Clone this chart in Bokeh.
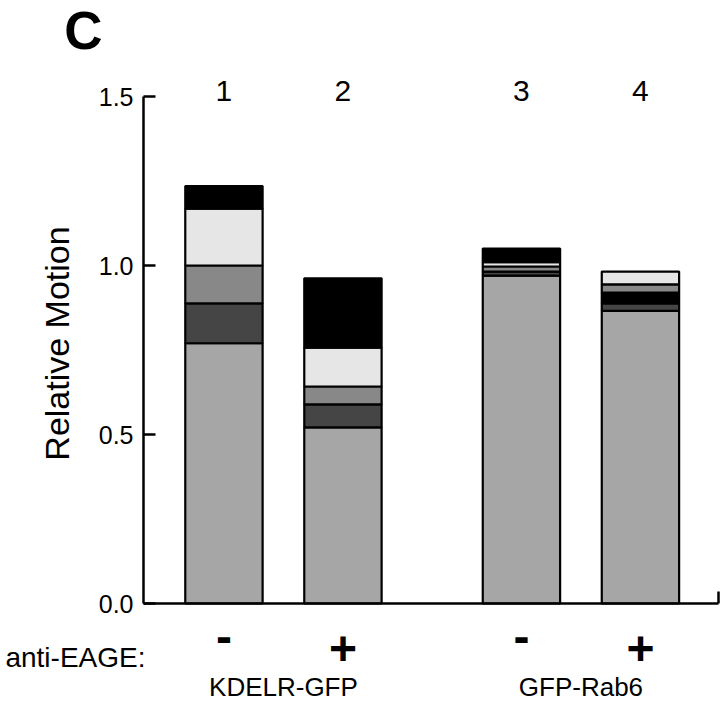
import math
from bokeh.plotting import figure
from bokeh.models import ColumnDataSource, Label, FixedTicker, PrintfTickFormatter, LinearAxis
from bokeh.embed import file_html
from bokeh.resources import INLINE

# ---- data ----
positions = [1.0, 2.0, 3.5, 4.5]
lane_numbers = ["1", "2", "3", "4"]
treatment = ["-", "+", "-", "+"]
groups = ["KDELR-GFP", "GFP-Rab6"]
y_ticks = [0.0, 0.5, 1.0, 1.5]

bar1_tops = [0.770, 0.888, 1.000, 1.168, 1.235]
bar1_shades = ["base", "dark", "mid", "light", "black"]
bar2_tops = [0.521, 0.589, 0.642, 0.757, 0.962]
bar2_shades = ["base", "dark", "mid", "light", "black"]
bar3_tops = [0.970, 0.982, 0.997, 1.010, 1.050]
bar3_shades = ["base", "dark", "mid", "light", "black"]
bar4_tops = [0.866, 0.888, 0.920, 0.944, 0.982]
bar4_shades = ["base", "dark", "black", "mid", "light"]

shade_colors = {"base": "#a6a6a6", "dark": "#454545", "mid": "#888888",
                "light": "#e6e6e6", "black": "#000000"}

FONT = "Liberation Sans"

# ---- build segments ----
xs, bottoms, tops, colors = [], [], [], []
for pos, tlist, slist in zip(positions,
                             [bar1_tops, bar2_tops, bar3_tops, bar4_tops],
                             [bar1_shades, bar2_shades, bar3_shades, bar4_shades]):
    prev = 0.0
    for t, s in zip(tlist, slist):
        xs.append(pos)
        bottoms.append(prev)
        tops.append(t)
        colors.append(shade_colors[s])
        prev = t
src = ColumnDataSource(dict(x=xs, bottom=bottoms, top=tops, color=colors))

X0 = 0.324      # data x at the y axis
UNIT = 119.0    # px per x unit
YPX0 = 603.0    # pixel row of y = 0
YUNIT = 338.0   # px per y unit
W, H = 720, 704


def dx(px):
    return X0 + (px - 143.0) / UNIT


def dy(py):
    return (YPX0 - py) / YUNIT


p = figure(width=W, height=H, x_range=(dx(0), dx(W)), y_range=(dy(H), dy(0)),
           output_backend="svg", toolbar_location=None,
           x_axis_type=None, y_axis_type=None,
           min_border_left=0, min_border_right=0,
           min_border_top=0, min_border_bottom=0)
p.outline_line_color = None
p.grid.visible = False
p.background_fill_color = "white"

p.vbar(x="x", bottom="bottom", top="top", width=0.65, fill_color="color",
       line_color="black", line_width=2.2, source=src)

# y axis
ya = LinearAxis(fixed_location=X0, bounds=(0.0, 1.5))
ya.ticker = FixedTicker(ticks=y_ticks)
ya.formatter = PrintfTickFormatter(format="%.1f")
ya.axis_line_width = 2.5
ya.major_tick_line_width = 2.5
ya.major_tick_in = 12
ya.major_tick_out = 0
ya.minor_tick_line_color = None
ya.major_label_text_font = FONT
ya.major_label_text_font_size = "25px"
ya.major_label_text_color = "black"
ya.major_label_standoff = 10
p.add_layout(ya, "left")

# x axis: line with an end tick
x_end = dx(718)
xa = LinearAxis(fixed_location=0.0, bounds=(X0, x_end))
xa.ticker = FixedTicker(ticks=[x_end])
xa.axis_line_width = 2.5
xa.major_tick_line_width = 2.5
xa.major_tick_in = 12
xa.major_tick_out = 0
xa.minor_tick_line_color = None
xa.major_label_text_font_size = "0px"
xa.major_label_text_color = None
p.add_layout(xa, "below")


def add_label(text, x, y, size, align="center", baseline="middle", bold=False, angle=0.0):
    p.add_layout(Label(x=x, y=y, text=text, text_font=FONT, text_font_size=size,
                       text_align=align, text_baseline=baseline, angle=angle,
                       text_font_style="bold" if bold else "normal",
                       text_color="black"))


add_label("C", dx(83), dy(30), "53px", bold=True)
for pos, num in zip(positions, lane_numbers):
    add_label(num, pos, dy(90), "30px")
add_label("Relative Motion", dx(56), dy(343), "34px", angle=math.pi / 2)
for pos, sign in zip(positions, treatment):
    ypx = 636 if sign == "-" else 648
    add_label(sign, pos, dy(ypx), "48px", bold=True)
add_label("anti-EAGE:", dx(145), dy(657), "28px", align="right")
add_label(groups[0], (positions[0] + positions[1]) / 2, dy(686), "26px")
add_label(groups[1], (positions[2] + positions[3]) / 2, dy(686), "26px")

open("out.html", "w").write(file_html(p, INLINE))
